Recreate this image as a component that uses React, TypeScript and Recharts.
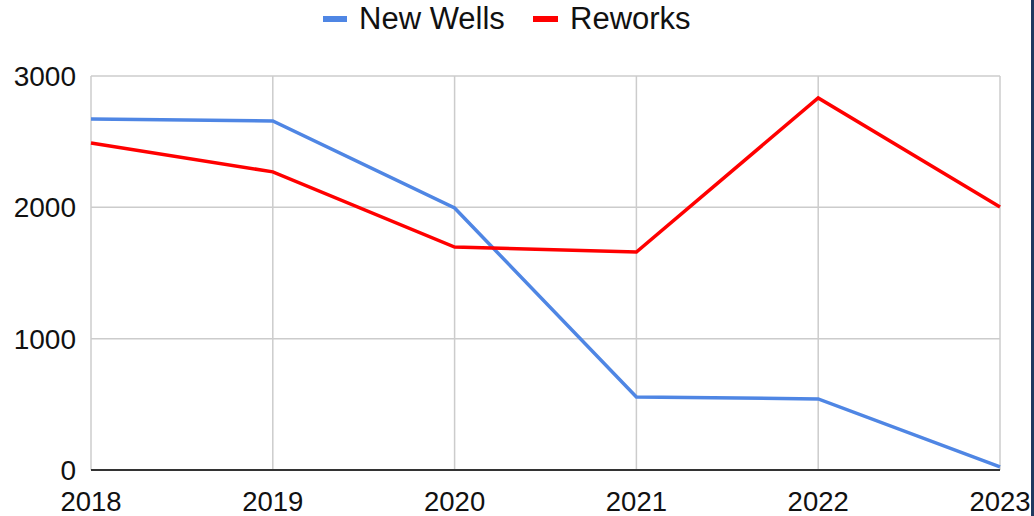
import React from "react";
import { LineChart, Line, XAxis, YAxis, CartesianGrid } from "recharts";

const years = ["2018", "2019", "2020", "2021", "2022", "2023"];
const newWells = [2673, 2658, 1995, 556, 541, 23];
const reworks = [2490, 2270, 1698, 1660, 2833, 2003];
const yTicks = [0, 1000, 2000, 3000];

const data = years.map((y, i) => ({ year: y, newWells: newWells[i], reworks: reworks[i] }));

const FONT = "'Liberation Sans', Arial, sans-serif";
const BLUE = "#4f86e4";
const RED = "#ff0000";
const TEXT = "#111111";

export default function App() {
  return (
    <div style={{ position: "fixed", left: 0, top: 0, width: 1034, height: 516, background: "#fff", fontFamily: FONT }}>
      <LineChart width={1034} height={516} data={data} margin={{ top: 76, right: 34, bottom: 0, left: 0 }}>
        <CartesianGrid stroke="#cccccc" strokeWidth={1.5} vertical={true} horizontal={true} />
        <XAxis
          dataKey="year"
          height={46}
          tickLine={false}
          tickSize={0}
          tickMargin={21}
          axisLine={{ stroke: "#333333", strokeWidth: 2 }}
          tick={{ fill: TEXT, fontSize: 27.5, fontFamily: FONT }}
          interval={0}
        />
        <YAxis
          width={91}
          domain={[0, 3000]}
          ticks={yTicks}
          axisLine={false}
          tickLine={false}
          tickSize={0}
          tickMargin={15}
          tick={{ fill: TEXT, fontSize: 28, fontFamily: FONT }}
        />
        <Line type="linear" dataKey="newWells" stroke={BLUE} strokeWidth={3.5} dot={false} isAnimationActive={false} />
        <Line type="linear" dataKey="reworks" stroke={RED} strokeWidth={3.5} dot={false} isAnimationActive={false} />
      </LineChart>
      <div style={{ position: "absolute", left: 323, top: 16, width: 24, height: 6, background: BLUE }} />
      <div style={{ position: "absolute", left: 359, top: 2, fontSize: 31, color: TEXT, lineHeight: "34px", whiteSpace: "nowrap" }}>New Wells</div>
      <div style={{ position: "absolute", left: 533, top: 16, width: 25, height: 6, background: RED }} />
      <div style={{ position: "absolute", left: 570, top: 2, fontSize: 31, color: TEXT, lineHeight: "34px", whiteSpace: "nowrap" }}>Reworks</div>
      <div style={{ position: "absolute", left: 1031, top: 0, width: 3, height: 516, background: "#1f3a60" }} />
    </div>
  );
}
